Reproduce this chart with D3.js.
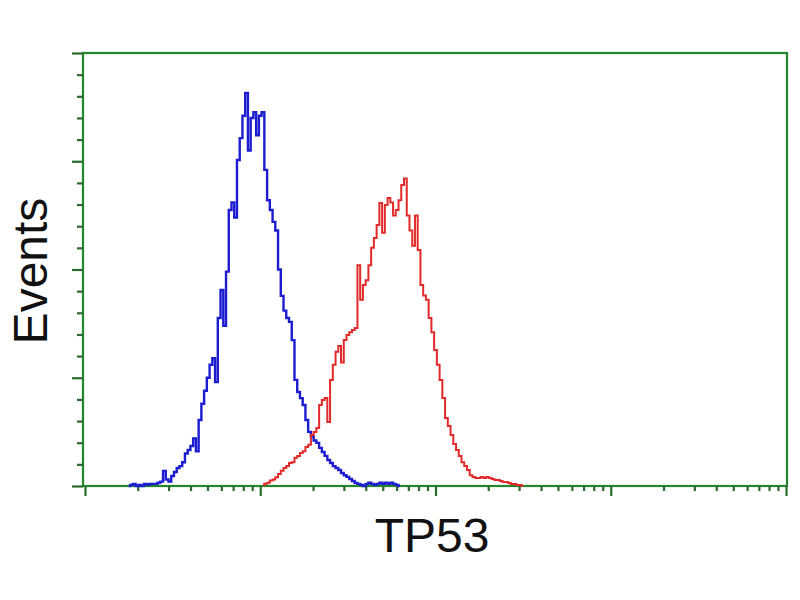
<!DOCTYPE html>
<html><head><meta charset="utf-8">
<script src="https://cdn.jsdelivr.net/npm/d3@7"></script>
<style>html,body{margin:0;padding:0;background:#fff;}svg{display:block;}</style>
</head><body>
<svg id="chart" width="800" height="600"></svg>
<script>
// 256 channels over 4 decades (64 per decade); counts per channel
const channelsPerDecade = 64;
const blueStart = 16;
const blueCounts = [0,0.5,1,0,0.5,0,1,0.5,1,1,1,1.5,2,7,3,2,4.6,6.5,8.3,9.2,11,15,16.6,18.5,22,16,30.5,38,44,50,56,59,48,77.6,90.5,74,99,127.5,131,124,150.6,160.7,171,181.5,155,170,172.7,162,171,172.7,146,132,127.5,122,118,100,87.8,81,77.6,75.8,67.4,49,43.4,40.6,37.4,30.5,25,23,21,19.9,17.6,15.7,13.9,12,10.6,9.2,8.3,7.4,6,5,4.2,3.2,2.3,1.4,1,0.5,0,1,1.5,1,0.5,1,1.5,1,1.5,1,1.5,1,0.5,0];
const redStart = 65;
const redCounts = [0.5,1,1.5,2.5,3,4,5.5,7,8.3,9.2,10.6,11,13,13.9,15.2,16,18,19,23.5,25,26.8,37.4,39.7,40.6,29.6,49,56,62,64.7,57,67.4,69.7,71,72,73,102,86,92.8,95,102,110,114.5,120.5,130.7,117,129.8,133,131,125,127.5,132,139,142,125,118,111,125,109,92.8,88,86,77.6,71,62.8,56,49,40.6,31.4,27.7,23.5,19.4,16.6,13.9,11,9.2,7.4,5,4.2,3.7,3.7,4.2,3.7,4.2,3.7,3.2,2.8,2.8,2.3,1.8,1.8,1.4,0.9,0.9,0.5,0.5,0];
const yMax = 200;
const yTickStep = 10;
const yMajorEvery = 50;
const xDomain = [1, 10000];
const xLabel = "TP53";
const yLabel = "Events";

const svg = d3.select("#chart");
const L = 83, R = 787, T = 53, B = 486;
const x = d3.scaleLog().domain(xDomain).range([85, 786]);
const y = d3.scaleLinear().domain([0, yMax]).range([B, T]);
const green = "#22862a";

function toPoints(start, arr){
  return arr.map((v,i)=>({x: Math.pow(10,(start+i)/channelsPerDecade), v}));
}
const line = d3.line().x(d=>x(d.x)).y(d=>y(d.v)).curve(d3.curveStep);

// frame
svg.append("rect").attr("x",L).attr("y",T).attr("width",R-L).attr("height",B-T)
  .attr("fill","none").attr("stroke",green).attr("stroke-width",2.2);

// y ticks
const yTicks = d3.range(0, yMax + 1, yTickStep);
const yAxis = svg.append("g").attr("transform",`translate(${L},0)`)
  .call(d3.axisLeft(y).tickValues(yTicks).tickSize(6).tickFormat(""));
yAxis.select(".domain").remove();
yAxis.selectAll(".tick line").attr("stroke","#2a6a2e").attr("stroke-width",2.2)
  .attr("x2", d => d % yMajorEvery === 0 ? -11 : -6);

// x ticks
const xTicks = [];
for (let e = 0; e < 4; e++) for (let m = 1; m < 10; m++) xTicks.push(m*Math.pow(10,e));
xTicks.push(10000);
const xAxis = svg.append("g").attr("transform",`translate(0,${B})`)
  .call(d3.axisBottom(x).tickValues(xTicks).tickSize(5).tickFormat(""));
xAxis.select(".domain").remove();
xAxis.selectAll(".tick line").attr("stroke","#2a6a2e").attr("stroke-width",2.2)
  .attr("y2", d => Math.abs(Math.log10(d) - Math.round(Math.log10(d))) < 1e-9 ? 10 : 5);

// curves
svg.append("path").datum(toPoints(blueStart, blueCounts)).attr("d", line)
  .attr("fill","none").attr("stroke","#1c1cd0").attr("stroke-width",2.4);
svg.append("path").datum(toPoints(redStart, redCounts)).attr("d", line)
  .attr("fill","none").attr("stroke","#e22a2a").attr("stroke-width",2);

// labels
svg.append("text").attr("x",432).attr("y",552).attr("text-anchor","middle")
  .attr("font-family","Liberation Sans, Arial, sans-serif").attr("font-size",48).attr("fill","#111")
  .text(xLabel);
svg.append("text").attr("transform","translate(47,271) rotate(-90)").attr("text-anchor","middle")
  .attr("font-family","Liberation Sans, Arial, sans-serif").attr("font-size",48).attr("fill","#111")
  .text(yLabel);
</script>
</body></html>
